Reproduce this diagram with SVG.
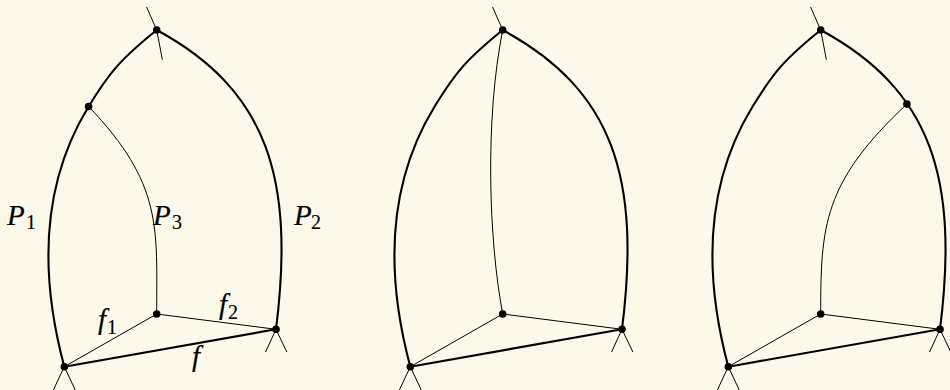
<svg xmlns="http://www.w3.org/2000/svg" width="950" height="390" viewBox="0 0 950 390">
<style>
.thick{fill:none;stroke:#000;stroke-width:2.1;stroke-linecap:round}
.thin{fill:none;stroke:#000;stroke-width:1;stroke-linecap:round}
.dot{fill:#000}
.lbl{font-family:'Liberation Serif','DejaVu Serif',serif;font-style:italic;font-size:29px;fill:#000;stroke:#000;stroke-width:0.2}
.sub{font-family:'Liberation Serif','DejaVu Serif',serif;font-size:20px;fill:#000;stroke:#000;stroke-width:0.15}
</style>
<defs>
<circle id="v" r="3.8" class="dot"/>
</defs>
<rect width="950" height="390" fill="#fdf9ea"/>

<!-- Panel 1 -->
<g id="panel1">
<g id="p1-connectors">
<path class="thick" d="M64.3,366.7 C38.4,270.3 42.96,181.05 88.6,106.5 C109.8,71.95 120.9,59 156.7,30"/>
<path class="thick" d="M156.7,30 C267.5,90.1 295,178 276,329.3"/>
<path class="thick" d="M64.3,366.7 L276,329.3"/>
<path class="thin" d="M64.3,366.7 L156.7,314"/>
<path class="thin" d="M156.7,314 L276,329.3"/>
<path class="thin" d="M88.6,106.5 C163,184 156.7,227.8 156.7,314"/>
<path class="thin" d="M146.7,7.3 L156.7,30 L162.3,59.3"/>
<path class="thin" d="M53.4,390 L64.3,366.7 L75.2,390"/>
<path class="thin" d="M265.7,351.7 L276,329.3 L286.7,351.7"/>
</g>
<g id="p1-T"><use href="#v" x="156.7" y="30"/></g>
<g id="p1-A"><use href="#v" x="88.6" y="106.5"/></g>
<g id="p1-L"><use href="#v" x="64.3" y="366.7"/></g>
<g id="p1-R"><use href="#v" x="276" y="329.3"/></g>
<g id="p1-C"><use href="#v" x="156.7" y="314"/></g>
<g id="p1-labels">
<text class="lbl" x="7" y="225">P</text><text class="sub" x="26" y="229">1</text>
<text class="lbl" x="153" y="225">P</text><text class="sub" x="172" y="229">3</text>
<text class="lbl" x="294" y="225">P</text><text class="sub" x="311" y="229">2</text>
<text class="lbl" x="98" y="329">f</text><text class="sub" x="107" y="334">1</text>
<text class="lbl" x="219" y="314">f</text><text class="sub" x="228" y="319">2</text>
<text class="lbl" x="192" y="366">f</text>
</g>
</g>

<!-- Panel 2 -->
<g id="panel2" transform="translate(346,0)">
<g id="p2-connectors">
<path class="thick" d="M64.3,366.7 C38.4,270.3 42.96,181.05 88.6,106.5 C109.8,71.95 120.9,59 156.7,30"/>
<path class="thick" d="M156.7,30 C267.5,90.1 295,178 276,329.3"/>
<path class="thick" d="M64.3,366.7 L276,329.3"/>
<path class="thin" d="M64.3,366.7 L156.7,314"/>
<path class="thin" d="M156.7,314 L276,329.3"/>
<path class="thin" d="M156.7,30 C138.7,120 142.7,240 156.7,314"/>
<path class="thin" d="M146.7,7.3 L156.7,30"/>
<path class="thin" d="M53.4,390 L64.3,366.7 L75.2,390"/>
<path class="thin" d="M265.7,351.7 L276,329.3 L286.7,351.7"/>
</g>
<g id="p2-T"><use href="#v" x="156.7" y="30"/></g>
<g id="p2-L"><use href="#v" x="64.3" y="366.7"/></g>
<g id="p2-R"><use href="#v" x="276" y="329.3"/></g>
<g id="p2-C"><use href="#v" x="156.7" y="314"/></g>
</g>

<!-- Panel 3 -->
<g id="panel3" transform="translate(664,0)">
<g id="p3-connectors">
<path class="thick" d="M64.3,366.7 C38.4,270.3 42.96,181.05 88.6,106.5 C109.8,71.95 120.9,59 156.7,30"/>
<path class="thick" d="M156.7,30 C267.5,90.1 295,178 276,329.3"/>
<path class="thick" d="M64.3,366.7 L276,329.3"/>
<path class="thin" d="M64.3,366.7 L156.7,314"/>
<path class="thin" d="M156.7,314 L276,329.3"/>
<path class="thin" d="M242.9,104.1 C159,182.3 156.7,226 156.7,314"/>
<path class="thin" d="M146.7,7.3 L156.7,30 L162.3,59.3"/>
<path class="thin" d="M53.4,390 L64.3,366.7 L75.2,390"/>
<path class="thin" d="M265.7,351.7 L276,329.3 L286.7,351.7"/>
</g>
<g id="p3-T"><use href="#v" x="156.7" y="30"/></g>
<g id="p3-B"><use href="#v" x="242.9" y="104.1"/></g>
<g id="p3-L"><use href="#v" x="64.3" y="366.7"/></g>
<g id="p3-R"><use href="#v" x="276" y="329.3"/></g>
<g id="p3-C"><use href="#v" x="156.7" y="314"/></g>
</g>
</svg>
